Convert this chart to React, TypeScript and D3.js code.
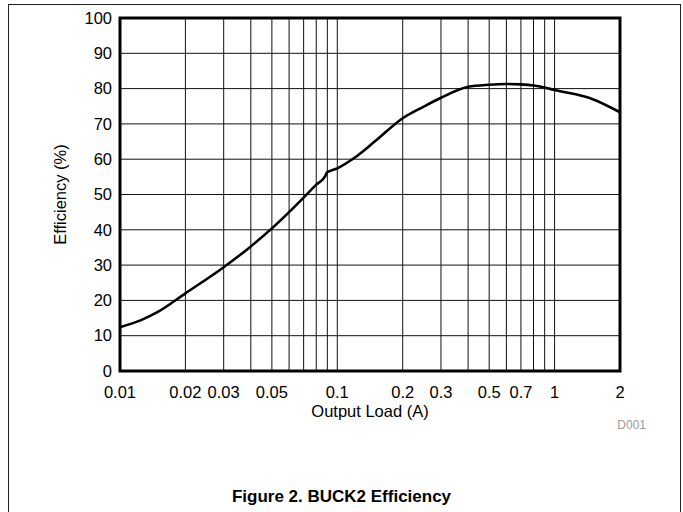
import * as d3 from 'd3'

const LOAD_A = [0.01, 0.0125, 0.015, 0.02, 0.03, 0.04, 0.05, 0.06, 0.07, 0.08, 0.088, 0.0895, 0.1, 0.12, 0.15, 0.2, 0.25, 0.3, 0.4, 0.5, 0.6, 0.7, 0.8, 0.9, 1, 1.5, 2]
const EFFICIENCY = [12.4, 14.4, 16.8, 22.0, 29.4, 35.3, 40.4, 45.0, 49.1, 52.8, 55.2, 56.2, 57.4, 60.4, 65.2, 71.6, 74.9, 77.4, 80.5, 81.1, 81.3, 81.2, 80.9, 80.3, 79.6, 77.0, 73.3]

const X_TICKS = [0.01, 0.02, 0.03, 0.05, 0.1, 0.2, 0.3, 0.5, 0.7, 1, 2]
const X_GRID = [0.02, 0.03, 0.04, 0.05, 0.06, 0.07, 0.08, 0.09, 0.1, 0.2, 0.3, 0.4, 0.5, 0.6, 0.7, 0.8, 0.9, 1]
const Y_TICKS = [0, 10, 20, 30, 40, 50, 60, 70, 80, 90, 100]

const W = 683
const H = 512
const margin = { top: 18, right: 63, bottom: 141, left: 120 }
const FONT = 'Liberation Sans, Arial, sans-serif'

export default function App() {
  const innerW = W - margin.left - margin.right
  const innerH = H - margin.top - margin.bottom

  const x = d3.scaleLog().domain([0.01, 2]).range([0, innerW])
  const y = d3.scaleLinear().domain([0, 100]).range([innerH, 0])

  const points = LOAD_A.map((a, i) => [a, EFFICIENCY[i]] as [number, number])
  const line = d3.line<[number, number]>()
    .x((d) => x(d[0]))
    .y((d) => y(d[1]))
    .curve(d3.curveMonotoneX)

  return (
    <svg width={W} height={H} style={{ position: 'absolute', left: 0, top: 0, background: '#fff' }}>
      {/* outer frame */}
      <rect x={8.5} y={4.5} width={672} height={530} fill="none" stroke="#222" strokeWidth={1} />

      <g transform={`translate(${margin.left},${margin.top})`}>
        {/* grid */}
        {X_GRID.map((v) => (
          <line key={`gx${v}`} x1={x(v)} x2={x(v)} y1={0} y2={innerH} stroke="#111" strokeWidth={1} />
        ))}
        {Y_TICKS.slice(1, -1).map((v) => (
          <line key={`gy${v}`} x1={0} x2={innerW} y1={y(v)} y2={y(v)} stroke="#111" strokeWidth={1} />
        ))}

        {/* data */}
        <path d={line(points) ?? ''} fill="none" stroke="#000" strokeWidth={2.6} strokeLinejoin="round" />

        {/* plot border */}
        <rect x={0} y={0} width={innerW} height={innerH} fill="none" stroke="#000" strokeWidth={3} />

        {/* y tick labels */}
        {Y_TICKS.map((v) => (
          <text key={`ty${v}`} x={-8} y={y(v)} dy="0.35em" textAnchor="end"
            style={{ fontFamily: FONT, fontSize: 16.5, fill: '#000' }}>
            {v}
          </text>
        ))}

        {/* x tick labels */}
        {X_TICKS.map((v) => (
          <text key={`tx${v}`} x={x(v)} y={innerH + 27} textAnchor="middle"
            style={{ fontFamily: FONT, fontSize: 16.5, fill: '#000' }}>
            {v}
          </text>
        ))}

        <text x={innerW / 2} y={innerH + 46} textAnchor="middle"
          style={{ fontFamily: FONT, fontSize: 16.5, fill: '#000' }}>
          Output Load (A)
        </text>

        <text transform={`translate(${-60},${innerH / 2}) rotate(-90)`} dy="0.35em" textAnchor="middle"
          style={{ fontFamily: FONT, fontSize: 16.5, fill: '#000' }}>
          Efficiency (%)
        </text>

        <text x={innerW + 26} y={innerH + 58} textAnchor="end"
          style={{ fontFamily: FONT, fontSize: 12, fill: '#999' }}>
          D001
        </text>
      </g>

      <text x={W / 2} y={502} textAnchor="middle"
        style={{ fontFamily: FONT, fontSize: 17, fontWeight: 700, fill: '#000' }}>
        Figure 2. BUCK2 Efficiency
      </text>
    </svg>
  )
}
